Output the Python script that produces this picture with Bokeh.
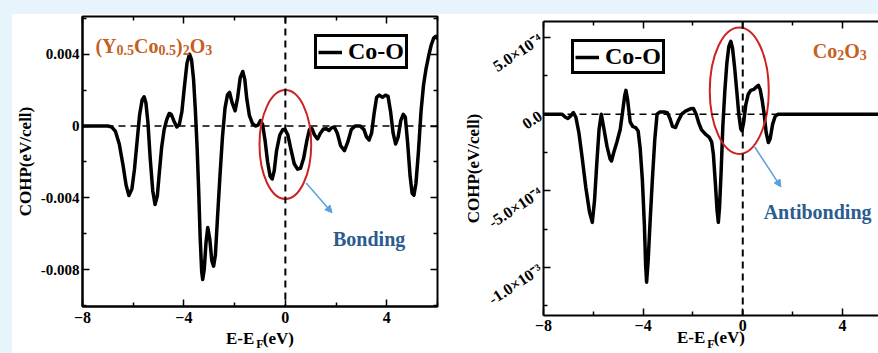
from bokeh.plotting import figure
from bokeh.models import (Range1d, FixedTicker, LinearAxis, Span, Label, Legend,
                          LegendItem, Arrow, NormalHead, Spacer)
from bokeh.layouts import row, column
from bokeh.core.properties import value
from bokeh.embed import file_html
from bokeh.resources import INLINE

FONT = "Liberation Serif"
BG = "#e7f4fb"
ORANGE = "#c4611f"
BLUE_TXT = "#2b5c8f"
ARROW_C = "#5aa0dc"
RED = "#cc2222"

# ---------------- data: (Y0.5Co0.5)2O3, Co-O COHP ----------------
left_e = [-8.0, -7.0, -6.85, -6.7, -6.55, -6.4, -6.28, -6.17, -6.05, -5.95, -5.85, -5.75,
          -5.65, -5.57, -5.5, -5.42, -5.33, -5.23, -5.14, -5.05, -4.97, -4.88, -4.78, -4.68,
          -4.58, -4.5, -4.4, -4.28, -4.18, -4.08, -3.98, -3.88, -3.78, -3.7, -3.62, -3.55,
          -3.48, -3.42, -3.36, -3.3, -3.26, -3.2, -3.13, -3.06, -2.98, -2.9, -2.83, -2.76,
          -2.68, -2.58, -2.48, -2.38, -2.28, -2.2, -2.1, -1.98, -1.88, -1.78, -1.68, -1.6,
          -1.52, -1.42, -1.3, -1.18, -1.08, -0.98, -0.9, -0.8, -0.7, -0.6, -0.52, -0.44,
          -0.35, -0.22, -0.1, -0.02, 0.1, 0.22, 0.35, 0.48, 0.6, 0.72, 0.85, 0.95, 1.05,
          1.15, 1.27, 1.38, 1.5, 1.62, 1.72, 1.82, 1.93, 2.05, 2.18, 2.33, 2.46, 2.6, 2.75,
          2.95, 3.1, 3.2, 3.3, 3.4, 3.5, 3.6, 3.7, 3.83, 3.95, 4.05, 4.15, 4.25, 4.35, 4.45,
          4.55, 4.65, 4.73, 4.82, 4.92, 5.0, 5.07, 5.15, 5.25, 5.35, 5.45, 5.55, 5.65, 5.75,
          5.85, 5.93, 6.0]
left_cohp = [0.0, 0.0, -0.05e-3, -0.3e-3, -1.0e-3, -2.2e-3, -3.3e-3, -3.87e-3, -3.5e-3,
             -2.4e-3, -0.9e-3, 0.6e-3, 1.45e-3, 1.63e-3, 1.3e-3, 0.2e-3, -1.8e-3, -3.6e-3,
             -4.37e-3, -3.9e-3, -2.6e-3, -1.2e-3, -0.2e-3, 0.35e-3, 0.7e-3, 0.65e-3, 0.3e-3,
             -0.05e-3, 0.1e-3, 0.8e-3, 2.2e-3, 3.5e-3, 4.0e-3, 3.7e-3, 2.6e-3, 0.9e-3,
             -1.2e-3, -3.5e-3, -6.2e-3, -8.1e-3, -8.55e-3, -8.0e-3, -6.5e-3, -5.65e-3,
             -6.3e-3, -7.5e-3, -7.8e-3, -7.2e-3, -5.2e-3, -2.8e-3, -0.6e-3, 1.0e-3, 1.75e-3,
             1.87e-3, 1.3e-3, 0.85e-3, 1.6e-3, 2.7e-3, 3.04e-3, 2.6e-3, 1.5e-3, 0.6e-3,
             0.15e-3, 0.0, 0.05e-3, 0.3e-3, 0.1e-3, -0.8e-3, -2.0e-3, -2.8e-3, -2.95e-3,
             -2.5e-3, -1.4e-3, -0.5e-3, -0.2e-3, -0.17e-3, -0.5e-3, -1.3e-3, -2.1e-3, -2.4e-3,
             -2.35e-3, -1.8e-3, -0.8e-3, -0.2e-3, -0.15e-3, -0.5e-3, -0.72e-3, -0.4e-3,
             -0.17e-3, -0.15e-3, -0.25e-3, -0.1e-3, -0.05e-3, -0.4e-3, -1.1e-3, -1.37e-3,
             -0.9e-3, -0.2e-3, 0.0, 0.0, -0.2e-3, -0.6e-3, -0.78e-3, -0.4e-3, 0.7e-3, 1.6e-3,
             1.72e-3, 1.6e-3, 1.72e-3, 1.65e-3, 0.8e-3, -0.4e-3, -1.0e-3, -0.6e-3, 0.3e-3,
             0.65e-3, 0.5e-3, -0.9e-3, -2.8e-3, -3.75e-3, -3.85e-3, -3.2e-3, -1.4e-3, 0.8e-3,
             2.3e-3, 3.2e-3, 3.9e-3, 4.5e-3, 4.9e-3, 5.0e-3, 4.85e-3]

# ---------------- data: Co2O3, Co-O COHP ----------------
right_e = [-8.0, -7.25, -7.12, -7.02, -6.9, -6.8, -6.7, -6.58, -6.45, -6.3, -6.15, -6.04,
           -5.95, -5.86, -5.77, -5.68, -5.58, -5.45, -5.33, -5.27, -5.18, -5.05, -4.92,
           -4.82, -4.74, -4.69, -4.62, -4.52, -4.42, -4.3, -4.2, -4.12, -4.03, -3.95, -3.9,
           -3.86, -3.8, -3.72, -3.63, -3.53, -3.44, -3.32, -3.15, -3.03, -2.92, -2.82, -2.7,
           -2.58, -2.45, -2.3, -2.1, -1.98, -1.87, -1.76, -1.66, -1.5, -1.35, -1.25, -1.18,
           -1.1, -1.03, -0.98, -0.93, -0.87, -0.8, -0.72, -0.64, -0.56, -0.48, -0.41, -0.33,
           -0.24, -0.16, -0.08, -0.03, 0.04, 0.12, 0.22, 0.32, 0.45, 0.56, 0.63, 0.7, 0.78,
           0.86, 0.94, 1.03, 1.1, 1.2, 1.3, 1.42, 6.0]
right_cohp = [0.0, 0.0, -0.2e-4, -0.28e-4, -0.1e-4, 0.1e-4, -0.2e-4, -1.2e-4, -2.8e-4,
              -4.8e-4, -6.4e-4, -7.05e-4, -5.6e-4, -3.2e-4, -1.0e-4, 0.0, -0.9e-4, -2.1e-4,
              -2.9e-4, -3.05e-4, -2.5e-4, -1.8e-4, -1.0e-4, 0.2e-4, 1.2e-4, 1.55e-4, 0.9e-4,
              -0.5e-4, -0.8e-4, -0.87e-4, -1.1e-4, -2.2e-4, -4.3e-4, -7.2e-4, -9.8e-4,
              -10.95e-4, -9.6e-4, -7.0e-4, -4.3e-4, -1.6e-4, 0.0, 0.15e-4, 0.15e-4, 0.1e-4,
              -0.3e-4, -0.8e-4, -0.87e-4, -0.4e-4, 0.0, 0.2e-4, 0.35e-4, 0.37e-4, 0.0,
              -0.6e-4, -1.0e-4, -1.3e-4, -1.5e-4, -1.8e-4, -2.6e-4, -4.5e-4, -6.3e-4,
              -7.05e-4, -6.0e-4, -3.8e-4, -0.8e-4, 1.5e-4, 3.3e-4, 4.4e-4, 4.75e-4, 4.3e-4,
              3.1e-4, 1.5e-4, 0.0, -0.95e-4, -1.08e-4, -0.5e-4, 0.6e-4, 1.3e-4, 1.55e-4,
              1.62e-4, 1.8e-4, 1.88e-4, 1.6e-4, 0.9e-4, 0.0, -1.2e-4, -1.85e-4, -1.6e-4,
              -0.65e-4, -0.15e-4, 0.0, 0.0]

# ---------------- ticks / labels ----------------
x_major = [-8, -4, 0, 4]
x_minor = [-6, -2, 2, 6]
left_y_major = [-0.008, -0.004, 0.0, 0.004]
left_y_minor = [-0.01, -0.006, -0.002, 0.002, 0.006]
left_y_labels = ["-0.008", "-0.004", "0", "0.004"]
right_y_major = [-1.0e-3, -5.0e-4, 0.0, 5.0e-4]
right_y_minor = [-1.25e-3, -7.5e-4, -2.5e-4, 2.5e-4]
right_y_labels = ["-1.0×10⁻³", "-5.0×10⁻⁴", "0.0", "5.0×10⁻⁴"]
series_name = "Co-O"
left_title = [("(Y", 0), ("0.5", 1), ("Co", 0), ("0.5", 1), (")", 0), ("2", 1), ("O", 0), ("3", 1)]
right_title = [("Co", 0), ("2", 1), ("O", 0), ("3", 1)]
xlabel_main = "E-E\u00a0\u00a0(eV)"
xlabel_sub = "F"
ylabel = "COHP(eV/cell)"

# Times-Bold advance widths (Liberation Serif Bold is metric compatible)
W = {'(': 333, ')': 333, 'Y': 722, 'C': 722, 'o': 500, 'O': 778, '.': 250, 'E': 667,
     '-': 333, 'F': 611, 'e': 444, 'V': 722}
for d in "0123456789":
    W[d] = 500


def twidth(s, size):
    return sum(W.get(c, 500) for c in s) / 1000.0 * size


def rich(p, x, y, pieces, size, sub_size, drop, color):
    off = 0.0
    for txt, sub in pieces:
        fs = sub_size if sub else size
        p.add_layout(Label(x=x, y=y, x_offset=off, y_offset=-drop if sub else 0, text=txt,
                           text_font=FONT, text_font_style="bold",
                           text_font_size=f"{fs}px", text_color=color,
                           text_baseline="alphabetic", text_align="left"))
        off += twidth(txt, fs)


def style_axis(ax, font_size, show_labels=True, line=True, ticks=True, standoff=3):
    ax.major_tick_in = 7 if ticks else 0
    ax.major_tick_out = 0
    ax.minor_tick_in = 4 if ticks else 0
    ax.minor_tick_out = 0
    ax.major_tick_line_width = 1.5
    ax.minor_tick_line_width = 1.5
    ax.major_tick_line_color = "black" if ticks else None
    ax.minor_tick_line_color = "black" if ticks else None
    ax.axis_line_width = 2
    ax.axis_line_color = "black" if line else None
    ax.major_label_text_font = FONT
    ax.major_label_text_font_style = "bold"
    if show_labels:
        ax.major_label_text_color = "black"
        ax.major_label_text_font_size = f"{font_size}px"
        ax.major_label_standoff = standoff
    else:
        ax.major_label_text_color = None
        ax.major_label_text_font_size = "1px"
        ax.major_label_standoff = 0


def make_panel(width, borders, xr, yr, ymaj, ymin, ylabels, outline, ytick_size,
               xtick_standoff, xlab_standoff, sub_standoff, ylab_standoff):
    l, r, t, b = borders
    p = figure(width=width, height=339, x_range=Range1d(*xr), y_range=Range1d(*yr),
               output_backend="svg", toolbar_location=None, frame_align=False,
               min_border_left=l, min_border_right=r, min_border_top=t, min_border_bottom=b,
               background_fill_color="white", border_fill_color="white")
    p.xgrid.grid_line_color = None
    p.ygrid.grid_line_color = None
    if outline:
        p.outline_line_color = "black"
        p.outline_line_width = 2
        p.outline_line_alpha = 1
    else:
        p.outline_line_color = None
    xt = FixedTicker(ticks=x_major, minor_ticks=x_minor)
    yt = FixedTicker(ticks=ymaj, minor_ticks=ymin)
    xa = p.below[0]
    ya = p.left[0]
    xa.ticker = xt
    ya.ticker = yt
    style_axis(xa, 16, standoff=xtick_standoff)
    style_axis(ya, ytick_size)
    ya.major_label_overrides = {v: s for v, s in zip(ymaj, ylabels)}
    for ax, txt in ((ya, ylabel), (xa, xlabel_main)):
        ax.axis_label = txt
        ax.axis_label_text_font = FONT
        ax.axis_label_text_font_style = "bold"
        ax.axis_label_text_font_size = "17px"
        ax.axis_label_text_color = "black"
    xa.axis_label_standoff = xlab_standoff
    ya.axis_label_standoff = ylab_standoff
    # second (invisible) bottom axis carrying the subscript of the x label
    sub = LinearAxis(ticker=xt)
    style_axis(sub, 1, show_labels=False, line=False, ticks=False)
    sub.axis_label = xlabel_sub
    sub.axis_label_text_font = FONT
    sub.axis_label_text_font_style = "bold"
    sub.axis_label_text_font_size = "12px"
    sub.axis_label_text_color = "black"
    sub.axis_label_standoff = sub_standoff
    p.add_layout(sub, "below")
    top = LinearAxis(ticker=xt)
    style_axis(top, 1, show_labels=False, line=not outline)
    p.add_layout(top, "above")
    return p


def make_legend(renderer, loc):
    return Legend(items=[LegendItem(label=value(series_name), renderers=[renderer])],
                  location=loc, label_text_font=FONT, label_text_font_style="bold",
                  label_text_font_size="24px", label_text_color="black",
                  border_line_color="black", border_line_width=3, border_line_alpha=1,
                  background_fill_alpha=1, padding=1, margin=0, spacing=0,
                  glyph_width=24, glyph_height=18, label_standoff=6)


# ---------------- left panel ----------------
p1 = make_panel(433, (68, 8, 2, 46), (-8, 6), (-0.01005, 0.0061),
                left_y_major, left_y_minor, left_y_labels, True, 15, 5, 3, -14, 3)
rgt = LinearAxis(ticker=FixedTicker(ticks=left_y_major, minor_ticks=left_y_minor))
style_axis(rgt, 1, show_labels=False, line=False)
p1.add_layout(rgt, "right")

p1.add_layout(Span(location=0, dimension="width", line_color="black", line_width=1.5,
                   line_dash="7 5"))
p1.add_layout(Span(location=0, dimension="height", line_color="black", line_width=2,
                   line_dash="7 5"))
r1 = p1.line(left_e, left_cohp, line_color="black", line_width=3.5, line_join="round")
p1.ellipse(x=0.0, y=-0.00103, width=2.04, height=0.00606, fill_color=None,
           line_color=RED, line_width=2)
p1.add_layout(Arrow(end=NormalHead(size=7, fill_color=ARROW_C, line_color=ARROW_C),
                    x_start=0.82, y_start=-0.00317, x_end=1.84, y_end=-0.00483,
                    line_color=ARROW_C, line_width=1.5))
p1.add_layout(Label(x=1.88, y=-0.00628, text="Bonding", text_font=FONT,
                    text_font_style="bold", text_font_size="20px", text_color=BLUE_TXT,
                    text_baseline="alphabetic"))
rich(p1, -7.49, 0.00444, left_title, 20, 14, 4, ORANGE)
p1.add_layout(make_legend(r1, (232, 237)))

# ---------------- right panel ----------------
p2 = make_panel(433, (98, 0, 7, 37), (-8, 5.45), (-1.312e-3, 6.04e-4),
                right_y_major, right_y_minor, right_y_labels, False, 16, 4, -6, -13, -5)
p2.left[0].major_label_orientation = 0.58

p2.add_layout(Span(location=0, dimension="width", line_color="black", line_width=1.5,
                   line_dash="7 5"))
p2.add_layout(Span(location=0, dimension="height", line_color="black", line_width=2,
                   line_dash="7 5"))
r2 = p2.line(right_e, right_cohp, line_color="black", line_width=3.5, line_join="round")
p2.ellipse(x=-0.14, y=1.53e-4, width=2.37, height=8.25e-4, fill_color=None,
           line_color=RED, line_width=2)
p2.add_layout(Arrow(end=NormalHead(size=7, fill_color=ARROW_C, line_color=ARROW_C),
                    x_start=0.48, y_start=-2.14e-4, x_end=1.53, y_end=-4.74e-4,
                    line_color=ARROW_C, line_width=1.5))
p2.add_layout(Label(x=0.84, y=-6.36e-4, text="Antibonding", text_font=FONT,
                    text_font_style="bold", text_font_size="20px", text_color=BLUE_TXT,
                    text_baseline="alphabetic"))
rich(p2, 2.81, 4.09e-4, right_title, 20, 14, 4, ORANGE)
p2.add_layout(make_legend(r2, (28, 241)))

# ---------------- page ----------------
left_strip = Spacer(width=12, height=353, styles={"background-color": BG})
top_strip = Spacer(width=866, height=14, styles={"background-color": BG})
layout = row(left_strip, column(top_strip, row(p1, p2, spacing=0), spacing=0), spacing=0)

open("out.html", "w").write(file_html(layout, INLINE))
